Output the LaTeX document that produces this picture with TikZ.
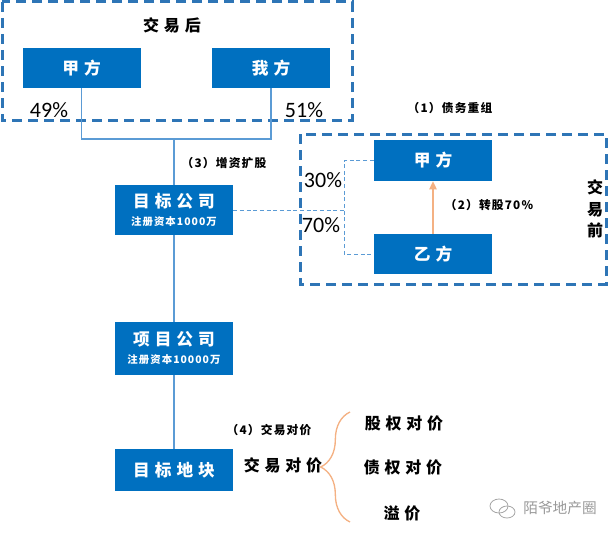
\documentclass[tikz,border=0pt]{standalone}
\usepackage{fontspec}
\setmainfont{Noto Sans CJK SC}
\newfontfamily\cjkwide[LetterSpace=30]{Noto Sans CJK SC}
\newfontfamily\cjknarrow[LetterSpace=10]{Noto Sans CJK SC}
\newfontfamily\pctfont{Carlito}
\usetikzlibrary{arrows.meta, decorations.pathreplacing}
\definecolor{boxblue}{RGB}{0,112,192}
\definecolor{zoneblue}{RGB}{46,117,182}
\definecolor{lineblue}{RGB}{91,155,213}
\definecolor{peach}{RGB}{244,177,131}
\newcommand\capfont{\cjknarrow\bfseries\fontsize{7.8}{9}\selectfont}

\begin{document}
\begin{tikzpicture}[x=0.75pt, y=-0.75pt,
  party/.style={rectangle, fill=boxblue, text=white, minimum width=88.5pt, minimum height=30pt,
    inner sep=0pt, font=\cjkwide\bfseries\fontsize{12.5}{13.5}\selectfont, align=center},
  zone/.style={draw=zoneblue, line width=2.25pt, dash pattern=on 7.5pt off 4.5pt},
  pct/.style={font=\pctfont\fontsize{16.5}{18}\selectfont, inner sep=0pt},
  note/.style={font=\cjknarrow\bfseries\fontsize{8.8}{10}\selectfont, inner sep=0pt},
  head/.style={font=\cjkwide\bfseries\fontsize{12}{16}\selectfont, inner sep=0pt, align=center},
  link/.style={draw=lineblue, line width=1pt},
  arrow/.style={-{Triangle[width=5.5pt,length=6pt]}, draw=peach, fill=peach, line width=1pt}
]
\useasboundingbox (0,0) rectangle (616,535);

% Dashed zones
\draw[zone] (2,2) rectangle (352,120);
\draw[zone] (300,134) rectangle (606,284);
\node[head] (after) at (172,25) {交易后};
\node[head] (before) at (595,209) {交\\易\\前};

% After the deal
\node[party] (jiaA) at (81.5,68) {甲方};
\node[party] (woF) at (271,68) {我方};
\node[pct] (pA) at (49,110) {49\%};
\node[pct] (pW) at (304,110) {51\%};

% Before the deal
\node[party, minimum height=30.75pt] (jiaB) at (433,160.5) {甲方};
\node[party] (yi) at (433,254) {乙方};
\node[pct] (pJ) at (323,180) {30\%};
\node[pct] (pY) at (321,225) {70\%};
\node[note] (n1) at (450,108) {（1）债务重组};
\node[note] (n2) at (489,205) {（2）转股70\%};

% Chain of companies
\node[party, minimum height=37.5pt] (tgt) at (174,210) {目标公司\\{\capfont 注册资本1000万}};
\node[party, minimum height=39.75pt] (xm) at (174,348.5) {项目公司\\{\capfont 注册资本10000万}};
\node[party, minimum height=31.5pt] (dk) at (174,470) {目标地块};
\node[note] (n3) at (224,163) {（3）增资扩股};

% Links
\coordinate (jn) at (174,139);
\coordinate (sp) at (344,210);
\draw[link] (jiaA.south) |- (jn) -| (woF.south);
\draw[link] (jn) -- (tgt.north);
\draw[link] (tgt.south) -- (xm.north);
\draw[link] (xm.south) -- (dk.north);
\draw[lineblue, line width=0.75pt, dash pattern=on 3pt off 2pt] (tgt.east) -- (sp);
\draw[lineblue, line width=0.75pt, dash pattern=on 3pt off 2pt] (jiaB.west) -| (sp) |- (yi.west);
\draw[arrow] (yi.north) -- (jiaB.south);

% Price split
\node[note] (n4) at (269,430) {（4）交易对价};
\node[head] (price) at (283,465) {交易对价};
\coordinate (bt) at (350,412);
\coordinate (bb) at (350,522);
\draw[peach, line width=1pt, decorate, decoration={brace, amplitude=22pt}] (bb) -- (bt);
\node[head] (equity) at (404,423) {股权对价};
\node[head] (debt) at (403,467) {债权对价};
\node[head] (premium) at (402,513) {溢价};

% Watermark
\draw[gray!70, line width=0.6pt] (499,506) ellipse [x radius=9, y radius=7];
\draw[gray!70, line width=0.6pt] (507,512) ellipse [x radius=8, y radius=6];
\node[font=\fontsize{11}{13}\selectfont, text=gray!80, inner sep=0pt] (mark) at (560,508) {陌爷地产圈};

\end{tikzpicture}
\end{document}
